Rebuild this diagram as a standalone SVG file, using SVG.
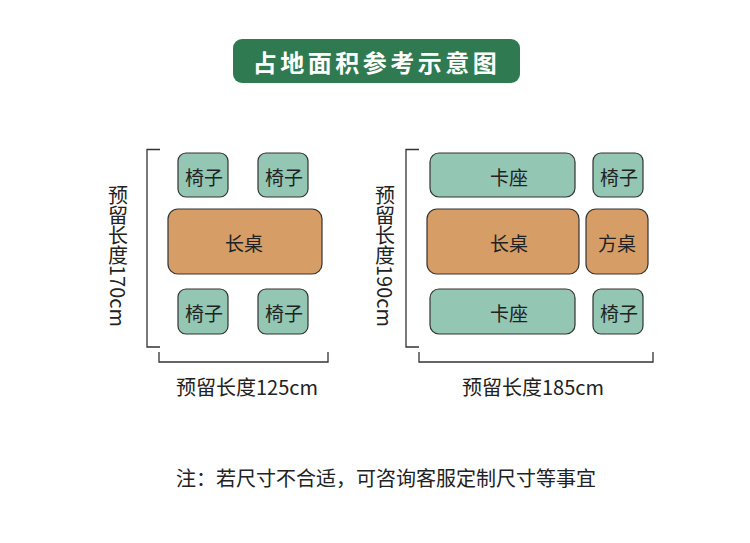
<svg xmlns="http://www.w3.org/2000/svg" width="750" height="543" viewBox="0 0 750 543">
<style>
.t{font-family:"Noto Sans CJK SC","Noto Sans",sans-serif;fill:#222;}
.lbl{font-size:19px;text-anchor:middle;dominant-baseline:central;}
.chair{fill:#93c6b3;stroke:#333;stroke-width:1.2;}
.table{fill:#d69d66;stroke:#333;stroke-width:1.2;}
.br{fill:none;stroke:#333;stroke-width:1.3;}
.dim{font-size:20px;}
</style>
<rect width="750" height="543" fill="#fff"/>
<g id="title">
<rect x="233" y="39" width="287" height="44" rx="9" fill="#2f7a50"/>
<text x="376.5" y="61" font-family="'Noto Sans CJK SC',sans-serif" font-size="24" font-weight="bold" fill="#fff" text-anchor="middle" dominant-baseline="central" letter-spacing="3.5">占地面积参考示意图</text>
</g>
<g id="connectors">
<polyline class="br" points="160,149.5 147,149.5 147,347 160,347"/>
<polyline class="br" points="159,352 159,362 328,362 328,352"/>
<polyline class="br" points="419,149.5 406,149.5 406,347 419,347"/>
<polyline class="br" points="419,352 419,362 653,362 653,352"/>
</g>
<g id="left-chair-tl"><rect class="chair" x="178" y="153" width="50" height="44" rx="8"/><text class="t lbl" x="204" y="176">椅子</text></g>
<g id="left-chair-tr"><rect class="chair" x="258" y="153" width="50" height="44" rx="8"/><text class="t lbl" x="284" y="176">椅子</text></g>
<g id="left-table"><rect class="table" x="168" y="209" width="154" height="65" rx="10"/><text class="t lbl" x="244" y="242">长桌</text></g>
<g id="left-chair-bl"><rect class="chair" x="178" y="289" width="50" height="45" rx="8"/><text class="t lbl" x="204" y="312">椅子</text></g>
<g id="left-chair-br"><rect class="chair" x="258" y="289" width="50" height="45" rx="8"/><text class="t lbl" x="284" y="312">椅子</text></g>
<g id="left-height"><text class="t dim" x="118" y="185" writing-mode="vertical-rl">预留长度170cm</text></g>
<g id="left-width"><text class="t dim" x="247" y="386" text-anchor="middle" dominant-baseline="central">预留长度125cm</text></g>
<g id="right-booth-top"><rect class="chair" x="430" y="153" width="145" height="44" rx="9"/><text class="t lbl" x="509" y="176">卡座</text></g>
<g id="right-chair-top"><rect class="chair" x="593" y="153" width="50" height="44" rx="8"/><text class="t lbl" x="619" y="176">椅子</text></g>
<g id="right-table"><rect class="table" x="427" y="209" width="152" height="65" rx="10"/><text class="t lbl" x="509" y="242">长桌</text></g>
<g id="right-square-table"><rect class="table" x="586" y="209" width="62" height="65" rx="10"/><text class="t lbl" x="617" y="242">方桌</text></g>
<g id="right-booth-bottom"><rect class="chair" x="430" y="289" width="145" height="45" rx="9"/><text class="t lbl" x="509" y="312">卡座</text></g>
<g id="right-chair-bottom"><rect class="chair" x="593" y="289" width="50" height="45" rx="8"/><text class="t lbl" x="619" y="312">椅子</text></g>
<g id="right-height"><text class="t dim" x="385" y="185" writing-mode="vertical-rl">预留长度190cm</text></g>
<g id="right-width"><text class="t dim" x="533" y="386" text-anchor="middle" dominant-baseline="central">预留长度185cm</text></g>
<g id="note"><text class="t" x="386" y="477" font-size="20" text-anchor="middle" dominant-baseline="central">注：若尺寸不合适，可咨询客服定制尺寸等事宜</text></g>
</svg>
